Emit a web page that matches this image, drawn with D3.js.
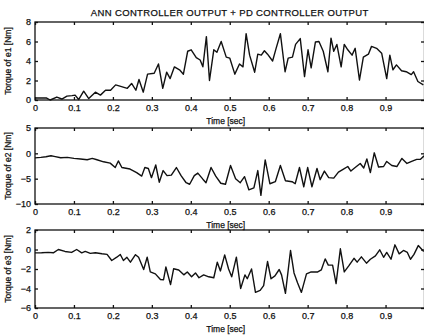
<!DOCTYPE html>
<html>
<head>
<meta charset="utf-8">
<script src="https://cdn.jsdelivr.net/npm/d3@7"></script>
<style>
  html, body { margin: 0; padding: 0; background: #fff; }
  svg { display: block; }
  text { font-family: "Liberation Sans", Arial, sans-serif; fill: #111; stroke: #111; stroke-width: 0.25px; }
</style>
</head>
<body>
<div id="chart"></div>
<script>
// values
const xTicks = [0, 0.1, 0.2, 0.3, 0.4, 0.5, 0.6, 0.7, 0.8, 0.9]
const xTickLabels = ["0", "0.1", "0.2", "0.3", "0.4", "0.5", "0.6", "0.7", "0.8", "0.9"]

const yTicks1 = [0, 2, 4, 6, 8]
const yTicks2 = [-10, -5, 0, 5]
const yTicks3 = [-6, -4, -2, 0, 2]

const time1 = [0, 0.03, 0.039, 0.056, 0.069, 0.082, 0.095, 0.103, 0.112, 0.125, 0.138, 0.155, 0.168, 0.181, 0.194, 0.207, 0.22, 0.237, 0.248, 0.259, 0.267, 0.278, 0.289, 0.306, 0.317, 0.328, 0.338, 0.347, 0.358, 0.371, 0.381, 0.392, 0.401, 0.414, 0.424, 0.431, 0.44, 0.448, 0.459, 0.467, 0.478, 0.491, 0.5, 0.513, 0.525, 0.534, 0.542, 0.551, 0.564, 0.572, 0.581, 0.589, 0.597, 0.61, 0.619, 0.63, 0.642, 0.65, 0.661, 0.669, 0.681, 0.692, 0.701, 0.709, 0.72, 0.729, 0.74, 0.752, 0.76, 0.767, 0.775, 0.786, 0.794, 0.803, 0.814, 0.822, 0.833, 0.843, 0.856, 0.864, 0.877, 0.89, 0.903, 0.911, 0.919, 0.928, 0.941, 0.953, 0.966, 0.972, 0.983, 0.997]
const torque1 = [0.2, 0.2, 0.0, 0.3, 0.1, 0.4, 0.45, 0.5, 0.05, 0.9, 0.15, 0.8, 0.5, 1.0, 1.0, 1.55, 1.4, 1.2, 1.7, 1.0, 2.1, 0.8, 2.65, 2.75, 3.7, 1.2, 2.85, 2.2, 3.4, 3.1, 2.65, 5.0, 5.15, 4.35, 4.1, 3.4, 6.5, 2.0, 5.15, 4.9, 6.0, 4.4, 4.3, 2.65, 3.7, 3.4, 6.8, 4.6, 2.85, 4.7, 4.6, 5.05, 4.7, 4.0, 5.3, 6.8, 2.9, 4.3, 4.4, 5.7, 6.3, 2.4, 5.15, 3.3, 5.95, 6.0, 5.0, 2.9, 6.35, 5.0, 5.7, 3.4, 5.7, 5.15, 4.6, 5.3, 2.05, 4.4, 4.7, 5.5, 5.3, 4.8, 2.2, 4.6, 3.1, 3.6, 3.0, 2.9, 2.6, 2.9, 1.9, 1.55]

const time2 = [0, 0.015, 0.028, 0.041, 0.049, 0.066, 0.083, 0.1, 0.117, 0.134, 0.147, 0.159, 0.176, 0.193, 0.206, 0.214, 0.223, 0.244, 0.261, 0.274, 0.282, 0.291, 0.299, 0.31, 0.319, 0.329, 0.339, 0.35, 0.363, 0.375, 0.388, 0.397, 0.409, 0.418, 0.431, 0.439, 0.452, 0.464, 0.477, 0.489, 0.502, 0.515, 0.527, 0.538, 0.549, 0.562, 0.572, 0.58, 0.591, 0.603, 0.617, 0.63, 0.643, 0.66, 0.668, 0.679, 0.69, 0.7, 0.711, 0.724, 0.732, 0.743, 0.754, 0.767, 0.779, 0.792, 0.803, 0.811, 0.822, 0.835, 0.844, 0.852, 0.861, 0.871, 0.882, 0.895, 0.903, 0.916, 0.929, 0.942, 0.955, 0.967, 0.98, 0.989, 0.999]
const torque2 = [-0.9, -0.8, -0.67, -0.47, -0.6, -0.87, -0.8, -1.0, -1.13, -1.27, -1.0, -1.27, -1.67, -1.93, -2.8, -1.5, -2.8, -3.1, -3.8, -4.5, -2.8, -3.0, -4.8, -2.3, -5.7, -3.4, -4.4, -4.3, -2.8, -4.4, -5.8, -6.1, -4.4, -3.9, -5.1, -5.8, -2.8, -4.5, -5.9, -6.1, -2.4, -5.0, -5.8, -4.6, -7.2, -6.8, -3.4, -8.3, -1.3, -6.0, -5.6, -2.4, -5.4, -5.6, -6.0, -2.8, -6.6, -2.8, -6.6, -3.0, -5.2, -3.5, -4.8, -4.9, -3.7, -3.1, -2.6, -3.5, -2.8, -2.0, -2.9, -1.1, -3.8, 0.1, -2.7, -2.6, -1.6, -2.4, -2.6, -1.0, -2.0, -1.6, -1.2, -1.2, -0.5]

const time3 = [0, 0.017, 0.034, 0.047, 0.06, 0.077, 0.094, 0.107, 0.12, 0.129, 0.142, 0.155, 0.172, 0.185, 0.197, 0.21, 0.219, 0.227, 0.236, 0.245, 0.258, 0.266, 0.279, 0.288, 0.296, 0.309, 0.322, 0.33, 0.336, 0.348, 0.356, 0.369, 0.382, 0.391, 0.402, 0.412, 0.421, 0.433, 0.446, 0.459, 0.468, 0.476, 0.487, 0.497, 0.505, 0.517, 0.528, 0.539, 0.545, 0.556, 0.566, 0.578, 0.587, 0.597, 0.606, 0.616, 0.627, 0.633, 0.643, 0.656, 0.665, 0.674, 0.684, 0.697, 0.709, 0.726, 0.735, 0.745, 0.753, 0.764, 0.773, 0.784, 0.794, 0.806, 0.819, 0.827, 0.838, 0.851, 0.861, 0.874, 0.885, 0.895, 0.903, 0.914, 0.924, 0.935, 0.946, 0.956, 0.964, 0.973, 0.984, 0.998]
const torque3 = [-0.35, -0.34, -0.3, -0.34, 0, -0.2, -0.3, 0, -0.34, -0.2, -0.4, -0.34, -0.44, -0.5, -1.13, -0.79, -0.51, -1.13, -0.8, -1.3, -0.53, -0.8, -2.05, -0.79, -2.3, -2.5, -3.08, -3.1, -1.8, -3.6, -1.97, -2.1, -2.6, -2.3, -2.8, -2.4, -2.9, -2.6, -2.8, -2.9, -1.3, -2.2, -0.55, -2.0, -2.8, -0.79, -4.0, -2.6, -3.0, -2.0, -4.4, -4.2, -3.7, -1.23, -3.0, -2.7, -2.05, -2.6, -4.5, -0.1, -2.4, -3.4, -4.4, -2.5, -2.3, -2.3, -2.1, -0.96, -1.6, -1.6, -3.5, 0.07, -2.3, -1.66, -0.9, -1.3, -0.75, -1.4, -1.0, -0.65, -0.03, -0.8, -0.3, -1.0, 0.48, -0.45, -0.1, -0.3, -1.0, -0.5, 0.4, -0.2]

const titleText = "ANN CONTROLLER OUTPUT + PD CONTROLLER OUTPUT"
const xLabelText = "Time [sec]"
const yLabels = ["Torque of e1 [Nm]", "Torque of e2 [Nm]", "Torque of e3 [Nm]"]

const width = 424
const height = 335
const left = 35
const right = 424.5

const panels = [
    {time: time1, torque: torque1, domain: [0, 8], ticks: yTicks1, label: yLabels[0], top: 22, bottom: 100},
    {time: time2, torque: torque2, domain: [-10, 5], ticks: yTicks2, label: yLabels[1], top: 128, bottom: 204},
    {time: time3, torque: torque3, domain: [-6, 2], ticks: yTicks3, label: yLabels[2], top: 230, bottom: 308},
]

const svg = d3.select("#chart")
    .append("svg")
    .attr("width", width)
    .attr("height", height)
    .attr("viewBox", [0, 0, width, height])

svg.append("rect").attr("width", width).attr("height", height).attr("fill", "#fff")

const x = d3.scaleLinear().domain([0, 1]).range([left, right])

svg.append("text")
    .attr("x", (left + right) / 2)
    .attr("y", 16)
    .attr("text-anchor", "middle")
    .style("font-size", "9.5px")
    .style("letter-spacing", "0.35px")
    .text(titleText)

for (let p of panels) {
    const y = d3.scaleLinear().domain(p.domain).range([p.bottom, p.top])
    const g = svg.append("g")

    let bottomAxis = d3.axisBottom(x)
        .tickValues(xTicks)
        .tickFormat((d, i) => xTickLabels[i])
        .tickSize(-3)
        .tickPadding(5)
    g.append("g")
        .attr("transform", `translate(0,${p.bottom})`)
        .call(bottomAxis)

    g.append("g")
        .attr("transform", `translate(0,${p.top})`)
        .call(d3.axisTop(x).tickValues(xTicks).tickFormat("").tickSize(-3))

    g.append("g")
        .attr("transform", `translate(${left},0)`)
        .call(d3.axisLeft(y).tickValues(p.ticks).tickSize(-3).tickPadding(4))

    g.append("g")
        .attr("transform", `translate(${width},0)`)
        .call(d3.axisRight(y).tickValues(p.ticks).tickFormat("").tickSize(-3))

    g.selectAll(".domain").remove()
    g.selectAll(".tick line").attr("stroke", "#111").attr("stroke-width", 1.3)
    g.selectAll(".tick text")
        .style("font-size", "9px")
        .style("font-family", "'Liberation Sans', Arial, sans-serif")
        .attr("fill", "#111")

    // frame
    g.append("rect")
        .attr("x", left)
        .attr("y", p.top)
        .attr("width", right - left)
        .attr("height", p.bottom - p.top)
        .attr("fill", "none")
        .attr("stroke", "#111")
        .attr("stroke-width", 1.3)

    const line = d3.line()
        .x((d, i) => x(p.time[i]))
        .y((d) => y(d))

    g.append("path")
        .datum(p.torque)
        .attr("d", line)
        .attr("fill", "none")
        .attr("stroke", "#111")
        .attr("stroke-width", 1.4)
        .attr("stroke-linejoin", "round")

    g.append("text")
        .attr("x", (left + right) / 2 - 4)
        .attr("y", p.bottom + 24)
        .attr("text-anchor", "middle")
        .style("font-size", "8.5px")
        .text(xLabelText)

    g.append("text")
        .attr("transform", `translate(11,${(p.top + p.bottom) / 2}) rotate(-90)`)
        .attr("text-anchor", "middle")
        .style("font-size", "8.5px")
        .text(p.label)
}
</script>
</body>
</html>
